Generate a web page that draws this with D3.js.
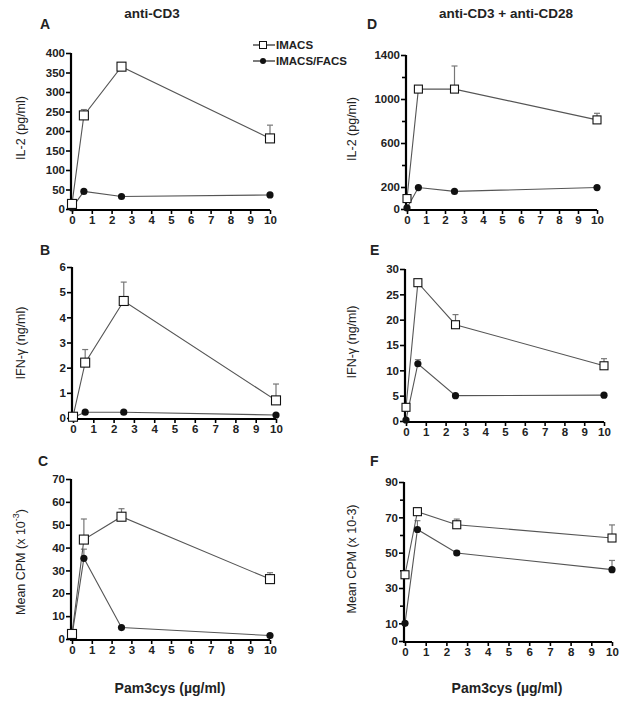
<!DOCTYPE html>
<html><head><meta charset="utf-8">
<script src="https://cdn.jsdelivr.net/npm/d3@7"></script>
<style>body{margin:0;background:#fff}svg{display:block}text{font-family:"Liberation Sans",Arial,sans-serif}</style>
</head><body><svg id="c" width="629" height="705"></svg>
<script>
// ---- data ----
const doses = [0, 0.6, 2.5, 10];
const xTicks = [0,1,2,3,4,5,6,7,8,9,10];
const seriesNames = ["IMACS", "IMACS/FACS"];
const columnTitles = ["anti-CD3", "anti-CD3 + anti-CD28"];
const xTitle = "Pam3cys (µg/ml)";

// A: IL-2, anti-CD3
const A_imacs = [13, 240, 365, 181];
const A_imacsErr = [0, 15, 0, 34];
const A_facs = [3, 45, 32, 36];
const A_facsErr = [0, 0, 0, 0];
const A_ticks = [0,50,100,150,200,250,300,350,400];
// B: IFN-g, anti-CD3
const B_imacs = [0.05, 2.2, 4.65, 0.7];
const B_imacsErr = [0, 0.52, 0.75, 0.65];
const B_facs = [0.02, 0.23, 0.23, 0.12];
const B_facsErr = [0, 0, 0, 0];
const B_ticks = [0,1,2,3,4,5,6];
// C: CPM, anti-CD3
const C_imacs = [2.2, 43.5, 53.5, 26.2];
const C_imacsErr = [0, 9, 3.5, 2.8];
const C_facs = [1.5, 35.3, 5.0, 1.5];
const C_facsErr = [0, 4, 0, 0];
const C_ticks = [0,10,20,30,40,50,60,70];
// D: IL-2, anti-CD3 + anti-CD28
const D_imacs = [95, 1090, 1090, 810];
const D_imacsErr = [0, 0, 210, 60];
const D_facs = [10, 195, 160, 195];
const D_facsErr = [0, 0, 0, 0];
const D_ticks = [0,200,600,1000,1400];
const D_minor = [400,800,1200];
// E: IFN-g, anti-CD3 + anti-CD28
const E_imacs = [2.7, 27.3, 19.0, 10.9];
const E_imacsErr = [0, 0, 2, 1.4];
const E_facs = [0.2, 11.3, 5.0, 5.1];
const E_facsErr = [0, 0.8, 0, 0];
const E_ticks = [0,5,10,15,20,25,30];
// F: CPM, anti-CD3 + anti-CD28
const F_imacs = [37.5, 73.2, 65.8, 58.3];
const F_imacsErr = [0, 2.3, 3.2, 7.4];
const F_facs = [10, 63.1, 49.8, 40.4];
const F_facsErr = [0, 5, 1.2, 5.2];
const F_ticks = [0,10,30,50,70,90];
const F_minor = [20,40,60,80];

// ---- layout ----
const svg = d3.select("#c");
const panels = [
  {id:"A", ylab:"IL-2 (pg/ml)", imacs:A_imacs, ie:A_imacsErr, facs:A_facs, fe:A_facsErr, ticks:A_ticks, minor:[], dom:400,
   x0:72, x1:270, yb:209, yt:53, lx:40, ly:29, labx:22, laby:128, sq:9, r:3.6},
  {id:"B", ylab:"IFN-γ (ng/ml)", imacs:B_imacs, ie:B_imacsErr, facs:B_facs, fe:B_facsErr, ticks:B_ticks, minor:[], dom:6,
   x0:73, x1:276, yb:418, yt:267, lx:40, ly:255, labx:22, laby:343, sq:9, r:3.6},
  {id:"C", ylab:"Mean CPM (x 10", sup:"-3", ylabEnd:")", imacs:C_imacs, ie:C_imacsErr, facs:C_facs, fe:C_facsErr, ticks:C_ticks, minor:[], dom:70,
   x0:72, x1:270, yb:639, yt:479, lx:38, ly:466, labx:22, laby:562, sq:9, r:3.6},
  {id:"D", ylab:"IL-2 (pg/ml)", imacs:D_imacs, ie:D_imacsErr, facs:D_facs, fe:D_facsErr, ticks:D_ticks, minor:D_minor, dom:1400,
   x0:407, x1:597, yb:209, yt:55, lx:367, ly:29, labx:353, laby:129, sq:8, r:3.6},
  {id:"E", ylab:"IFN-γ (ng/ml)", imacs:E_imacs, ie:E_imacsErr, facs:E_facs, fe:E_facsErr, ticks:E_ticks, minor:[], dom:30,
   x0:406, x1:604, yb:421, yt:269, lx:370, ly:255, labx:353, laby:342, sq:8, r:3.6},
  {id:"F", ylab:"Mean CPM (x 10-3)", imacs:F_imacs, ie:F_imacsErr, facs:F_facs, fe:F_facsErr, ticks:F_ticks, minor:F_minor, dom:90,
   x0:405, x1:612, yb:641, yt:482, lx:370, ly:466, labx:353, laby:559, sq:8, r:3.6}
];

const lineCol = "#555", errCol = "#777";

panels.forEach(p => {
  const x = d3.scaleLinear().domain([0,10]).range([p.x0, p.x1]);
  const y = d3.scaleLinear().domain([0,p.dom]).range([p.yb, p.yt]);
  const g = svg.append("g");

  // y axis
  const ya = d3.axisLeft(y).tickValues(p.ticks).tickSize(5).tickPadding(1).tickFormat(d3.format("d"));
  const yg = g.append("g").attr("transform", `translate(${x(0)-1},0)`).call(ya);
  if (p.minor.length) {
    g.append("g").attr("transform", `translate(${x(0)-1},0)`)
      .call(d3.axisLeft(y).tickValues(p.minor).tickSize(4).tickFormat(""))
      .select(".domain").remove();
  }
  // x axis
  const xa = d3.axisBottom(x).tickValues(xTicks).tickSize(4).tickPadding(2).tickFormat(d3.format("d"));
  const xg = g.append("g").attr("transform", `translate(0,${y(0)+1})`).call(xa);
  [yg, xg].forEach(a => {
    a.selectAll(".domain").attr("stroke","#000").attr("stroke-width",2.2)
      .attr("d", a===yg ? `M0,${p.yb+1}V${p.yt}` : `M${p.x0-2},0H${p.x1}`);
    a.selectAll(".tick line").attr("stroke","#000").attr("stroke-width",1.6);
    a.selectAll(".tick text").attr("font-size",11.5).attr("font-weight","bold").attr("fill","#222")
      .attr("font-family","'Liberation Sans',Arial,sans-serif");
  });
  g.selectAll(".tick line").attr("stroke","#000").attr("stroke-width",1.6);

  // panel letter
  svg.append("text").attr("x",p.lx).attr("y",p.ly).text(p.id)
    .attr("font-size",14).attr("font-weight","bold").attr("fill","#222");
  // y label
  const yl = svg.append("text").attr("transform",`translate(${p.labx},${p.laby}) rotate(-90)`)
    .attr("text-anchor","middle").attr("dominant-baseline","middle")
    .attr("font-size",12.5).attr("fill","#222");
  yl.append("tspan").text(p.ylab);
  if (p.sup) {
    yl.append("tspan").attr("font-size",9).attr("dy",-5).text(p.sup);
    yl.append("tspan").attr("dy",5).text(p.ylabEnd);
  }

  const line = d3.line().x((d,i)=>x(doses[i])).y(d=>y(d));
  // error bars
  [[p.imacs,p.ie],[p.facs,p.fe]].forEach(([vals,errs]) => {
    vals.forEach((v,i) => {
      if (!errs[i]) return;
      const cx = x(doses[i]), top = y(v+errs[i]);
      g.append("line").attr("x1",cx).attr("x2",cx).attr("y1",y(v)).attr("y2",top).attr("stroke",errCol).attr("stroke-width",1.2);
      g.append("line").attr("x1",cx-3).attr("x2",cx+3).attr("y1",top).attr("y2",top).attr("stroke",errCol).attr("stroke-width",1.2);
    });
  });
  // lines
  g.append("path").datum(p.facs).attr("d",line).attr("fill","none").attr("stroke",lineCol).attr("stroke-width",1.1);
  g.append("path").datum(p.imacs).attr("d",line).attr("fill","none").attr("stroke",lineCol).attr("stroke-width",1.1);
  // markers
  g.selectAll(".fc").data(p.facs).enter().append("circle")
    .attr("cx",(d,i)=>x(doses[i])).attr("cy",d=>y(d)).attr("r",p.r).attr("fill","#111");
  g.selectAll(".sq").data(p.imacs).enter().append("rect")
    .attr("x",(d,i)=>x(doses[i])-p.sq/2).attr("y",d=>y(d)-p.sq/2).attr("width",p.sq).attr("height",p.sq)
    .attr("fill","#fff").attr("stroke","#111").attr("stroke-width",1.1);
});

// column titles
svg.append("text").attr("x",152).attr("y",18).attr("text-anchor","middle").text(columnTitles[0])
  .attr("font-size",13.5).attr("font-weight","bold").attr("fill","#222");
svg.append("text").attr("x",506).attr("y",18).attr("text-anchor","middle").text(columnTitles[1])
  .attr("font-size",13.5).attr("font-weight","bold").attr("fill","#222");
// x titles
[170, 507].forEach(cx => {
  svg.append("text").attr("x",cx).attr("y",693).attr("text-anchor","middle").text(xTitle)
    .attr("font-size",14).attr("font-weight","bold").attr("fill","#222");
});

// legend
const lg = svg.append("g");
seriesNames.forEach((n,i) => {
  const ly = 45 + i*16;
  lg.append("line").attr("x1",253).attr("x2",275).attr("y1",ly).attr("y2",ly).attr("stroke","#111").attr("stroke-width",1.1);
  if (i===0) lg.append("rect").attr("x",259.5).attr("y",ly-3.5).attr("width",7).attr("height",7).attr("fill","#fff").attr("stroke","#111");
  else lg.append("circle").attr("cx",263).attr("cy",ly).attr("r",3).attr("fill","#111");
  lg.append("text").attr("x",276).attr("y",ly+4).text(n).attr("font-size",11.5).attr("font-weight","bold").attr("fill","#222");
});
</script></body></html>
